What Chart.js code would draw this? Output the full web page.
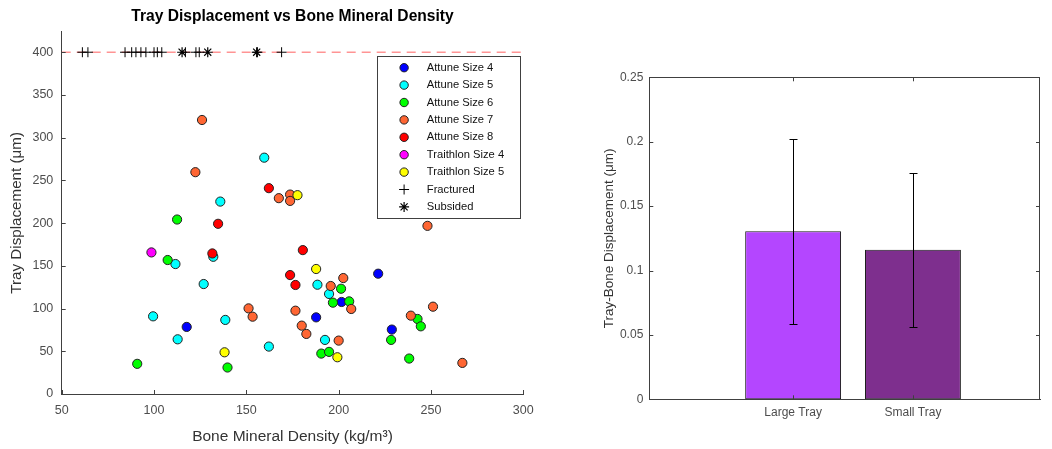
<!DOCTYPE html>
<html>
<head>
<meta charset="utf-8">
<script src="https://cdn.jsdelivr.net/npm/chart.js@4.4.1/dist/chart.umd.min.js"></script>
<style>
    body { margin: 0; background: #fff; }
    #scatterChart { position: absolute; left: 0; top: 0; }
    #barChart { position: absolute; left: 560px; top: 0; }
</style>
</head>
<body>
<canvas id="scatterChart" width="560" height="449"></canvas>
<canvas id="barChart" width="492" height="449"></canvas>
<script>
// Bone mineral density (kg/m^3) and tray displacement (um) for each implant group
const size4Bmd  = [117.7, 187.8, 201.6, 221.4, 228.8];
const size4Disp = [78.5, 89.7, 107.7, 140.8, 75.4];

const size5Bmd  = [159.7, 135.9, 132.1, 111.6, 126.9, 99.5, 138.6, 112.8, 162.2, 188.5, 194.8, 192.6];
const size5Disp = [276.6, 225.2, 160.6, 152.1, 128.7, 90.9, 86.7, 64.0, 55.5, 127.9, 117.1, 63.3];

const size6Bmd  = [112.5, 107.4, 90.9, 139.8, 201.3, 196.9, 205.7, 190.6, 194.8, 228.4, 238.2, 242.7, 244.5];
const size6Disp = [204.2, 156.8, 35.3, 31.0, 123.2, 106.9, 108.4, 47.3, 49.3, 63.3, 41.5, 87.8, 79.2];

const size7Bmd  = [126.0, 122.4, 167.6, 173.7, 173.7, 151.2, 153.4, 176.6, 180.0, 182.5, 202.5, 195.7, 206.8, 200.0, 239.1, 251.1, 267.0, 248.1];
const size7Disp = [320.7, 259.6, 229.2, 233.4, 226.0, 100.2, 90.5, 97.5, 80.0, 70.3, 135.7, 126.4, 99.5, 62.5, 91.7, 102.2, 36.4, 196.8];

const size8Bmd  = [162.2, 134.7, 131.6, 173.7, 176.6, 180.6];
const size8Disp = [240.9, 199.2, 164.5, 139.2, 127.6, 168.4];

const tri4Bmd  = [98.6];
const tri4Disp = [165.7];

const tri5Bmd  = [177.7, 138.2, 187.8, 199.3];
const tri5Disp = [232.7, 48.8, 146.3, 43.0];

// failed trays are plotted at the cap value
const failCap = 400;
const fracturedBmd = [61.2, 64.2, 84.3, 87.9, 90.2, 92.9, 95.6, 100.0, 101.8, 104.2, 117.0, 122.7, 124.5, 156.0, 169.1];
const subsidedBmd  = [115.2, 129.1, 155.6];

// bar chart: mean tray-bone displacement with standard deviation
const trayLabels = ['Large Tray', 'Small Tray'];
const trayMeans  = [0.1305, 0.1162];
const trayErr    = [0.0719, 0.0598];
const trayColors = ['#b446ff', '#7e2f8e'];

const FONT = "'Liberation Sans', Arial, sans-serif";
const AXIS = '#404040';
const TICK = '#4d4d4d';

const pts = (xs, ys) => xs.map((x, i) => ({ x: x, y: ys[i] }));

function group(label, color, xs, ys, order) {
    return {
        label: label,
        data: pts(xs, ys),
        backgroundColor: color,
        borderColor: '#222',
        borderWidth: 1,
        pointRadius: 4.6,
        pointStyle: 'circle',
        order: order
    };
}

// legend in a box, top right of the plot area
const boxLegend = {
    id: 'boxLegend',
    afterDraw(chart, args, opts) {
        const { ctx, chartArea: a } = chart;
        const items = chart.data.datasets.filter(d => d.label);
        const h = items.length * opts.rowHeight + opts.pad * 2;
        const x0 = Math.round(a.right - opts.right - opts.width) + 0.5;
        const y0 = Math.round(a.top + opts.top) + 0.5;
        ctx.save();
        ctx.fillStyle = '#fff';
        ctx.fillRect(x0, y0, opts.width, h);
        ctx.strokeStyle = AXIS;
        ctx.lineWidth = 1;
        ctx.strokeRect(x0, y0, Math.round(opts.width), Math.round(h));
        ctx.font = opts.fontSize + 'px ' + FONT;
        ctx.textBaseline = 'middle';
        items.forEach((d, i) => {
            const cy = y0 + opts.pad + opts.rowHeight * (i + 0.5);
            ctx.fillStyle = d.backgroundColor;
            ctx.strokeStyle = d.borderColor;
            ctx.lineWidth = d.borderWidth;
            Chart.helpers.drawPoint(ctx, {
                pointStyle: d.pointStyle,
                radius: d.pointStyle === 'circle' ? 4.2 : d.pointRadius,
                borderWidth: d.borderWidth,
                rotation: 0
            }, x0 + opts.markerX, cy);
            ctx.fillStyle = '#111';
            ctx.fillText(d.label, x0 + opts.textX, cy);
        });
        ctx.restore();
    }
};

// matlab style ticks pointing into the axes, optional closed box
const inwardTicks = {
    id: 'inwardTicks',
    afterDatasetsDraw(chart, args, opts) {
        const { ctx, chartArea: a } = chart;
        const xs = chart.scales.x, ys = chart.scales.y;
        const len = opts.length;
        ctx.save();
        ctx.strokeStyle = AXIS;
        ctx.lineWidth = 1;
        ctx.beginPath();
        xs.ticks.forEach(t => {
            const px = Math.round(xs.getPixelForValue(t.value)) + 0.5;
            ctx.moveTo(px, a.bottom);
            ctx.lineTo(px, a.bottom - len);
            if (opts.box) {
                ctx.moveTo(px, a.top);
                ctx.lineTo(px, a.top + len);
            }
        });
        ys.ticks.forEach(t => {
            const py = Math.round(ys.getPixelForValue(t.value)) + 0.5;
            ctx.moveTo(a.left, py);
            ctx.lineTo(a.left + len, py);
            if (opts.box) {
                ctx.moveTo(a.right, py);
                ctx.lineTo(a.right - len, py);
            }
        });
        if (opts.box) {
            ctx.moveTo(a.left, Math.round(a.top) + 0.5);
            ctx.lineTo(a.right, Math.round(a.top) + 0.5);
            ctx.moveTo(Math.round(a.right) - 0.5, a.top);
            ctx.lineTo(Math.round(a.right) - 0.5, a.bottom);
        }
        ctx.stroke();
        ctx.restore();
    }
};

// vertical error bars with caps
const errorBars = {
    id: 'errorBars',
    afterDatasetsDraw(chart, args, opts) {
        const { ctx } = chart;
        const xs = chart.scales.x, ys = chart.scales.y;
        ctx.save();
        ctx.strokeStyle = '#000';
        ctx.lineWidth = 1;
        chart.data.datasets.forEach(ds => {
            ds.data.forEach((p, i) => {
                const e = ds.errors[i];
                const px = Math.round(xs.getPixelForValue(p.x)) + 0.5;
                const top = Math.round(ys.getPixelForValue(p.y + e)) + 0.5;
                const bot = Math.round(ys.getPixelForValue(p.y - e)) + 0.5;
                ctx.beginPath();
                ctx.moveTo(px, top);
                ctx.lineTo(px, bot);
                ctx.moveTo(px - opts.cap, top);
                ctx.lineTo(px + opts.cap, top);
                ctx.moveTo(px - opts.cap, bot);
                ctx.lineTo(px + opts.cap, bot);
                ctx.stroke();
            });
        });
        ctx.restore();
    }
};

// scatter: displacement against bone mineral density
new Chart(document.getElementById('scatterChart'), {
    type: 'scatter',
    data: {
        datasets: [
            group('Attune Size 4', '#0000ff', size4Bmd, size4Disp, 9),
            group('Attune Size 5', '#00ffff', size5Bmd, size5Disp, 8),
            group('Attune Size 6', '#00ff00', size6Bmd, size6Disp, 7),
            group('Attune Size 7', '#ff6633', size7Bmd, size7Disp, 6),
            group('Attune Size 8', '#ff0000', size8Bmd, size8Disp, 5),
            group('Traithlon Size 4', '#ff00ff', tri4Bmd, tri4Disp, 4),
            group('Traithlon Size 5', '#ffff00', tri5Bmd, tri5Disp, 3),
            {
                label: 'Fractured',
                data: fracturedBmd.map(x => ({ x: x, y: failCap })),
                pointStyle: 'cross',
                pointRadius: 5,
                borderColor: '#000',
                backgroundColor: '#000',
                borderWidth: 1,
                order: 2
            },
            {
                label: 'Subsided',
                data: subsidedBmd.map(x => ({ x: x, y: failCap })),
                pointStyle: 'star',
                pointRadius: 5,
                borderColor: '#000',
                backgroundColor: '#000',
                borderWidth: 1.2,
                order: 1
            },
            {
                data: [{ x: 50, y: failCap }, { x: 300, y: failCap }],
                showLine: true,
                pointRadius: 0,
                borderColor: 'rgba(255, 0, 0, 0.42)',
                borderWidth: 1.5,
                borderDash: [9, 6],
                order: 100
            }
        ]
    },
    options: {
        responsive: false,
        animation: false,
        layout: { padding: { left: 0, right: 36.7, top: 0, bottom: 0 } },
        plugins: {
            legend: { display: false },
            tooltip: { enabled: false },
            title: {
                display: true,
                text: 'Tray Displacement vs Bone Mineral Density',
                fullSize: false,
                color: '#000',
                font: { family: FONT, size: 15.6, weight: 'bold' },
                padding: { top: 7.6, bottom: 5.4 }
            },
            boxLegend: { width: 142.6, right: 4, top: 24.3, rowHeight: 17.4, pad: 2.5, markerX: 26.6, textX: 49.3, fontSize: 11.2 },
            inwardTicks: { length: 4, box: false }
        },
        scales: {
            x: {
                type: 'linear',
                min: 50,
                max: 300,
                grid: { display: false, drawTicks: false },
                border: { color: AXIS },
                ticks: { stepSize: 50, padding: 9, color: TICK, font: { family: FONT, size: 12.5 } },
                title: {
                    display: true,
                    text: 'Bone Mineral Density (kg/m³)',
                    color: '#333',
                    font: { family: FONT, size: 15.5 },
                    padding: { top: 0, bottom: 3.2 }
                },
                afterFit: s => { s.height = 55; }
            },
            y: {
                min: 0,
                max: 424,
                grid: { display: false, drawTicks: false },
                border: { color: AXIS },
                ticks: { stepSize: 50, includeBounds: false, padding: 8.4, color: TICK, font: { family: FONT, size: 12.5 } },
                title: {
                    display: true,
                    text: 'Tray Displacement (μm)',
                    color: '#333',
                    font: { family: FONT, size: 15.2 },
                    padding: { top: 7.6, bottom: 0 }
                },
                afterFit: s => { s.width = 61.7; }
            }
        }
    },
    plugins: [boxLegend, inwardTicks]
});

// bar chart: mean displacement per tray size
new Chart(document.getElementById('barChart'), {
    type: 'bar',
    data: {
        datasets: [{
            data: trayMeans.map((m, i) => ({ x: i + 1, y: m })),
            errors: trayErr,
            backgroundColor: trayColors,
            borderColor: '#1a1a1a',
            borderWidth: 1,
            borderSkipped: false,
            barPercentage: 0.8,
            categoryPercentage: 1
        }]
    },
    options: {
        responsive: false,
        animation: false,
        layout: { padding: { left: 0, right: 12, top: 77.3, bottom: 0 } },
        plugins: {
            legend: { display: false },
            tooltip: { enabled: false },
            errorBars: { cap: 4 },
            inwardTicks: { length: 4, box: true }
        },
        scales: {
            x: {
                type: 'linear',
                min: -0.2,
                max: 3.06,
                offset: false,
                grid: { display: false, drawTicks: false, offset: false },
                border: { color: AXIS },
                afterBuildTicks: s => { s.ticks = trayLabels.map((l, i) => ({ value: i + 1 })); },
                ticks: {
                    padding: 6.5,
                    color: TICK,
                    font: { family: FONT, size: 12 },
                    callback: v => trayLabels[v - 1]
                },
                afterFit: s => { s.height = 49.7; }
            },
            y: {
                min: 0,
                max: 0.25,
                grid: { display: false, drawTicks: false },
                border: { color: AXIS },
                ticks: {
                    stepSize: 0.05,
                    padding: 6,
                    color: TICK,
                    font: { family: FONT, size: 12 },
                    callback: v => String(+v.toFixed(2))
                },
                title: {
                    display: true,
                    text: 'Tray-Bone Displacement (μm)',
                    color: '#333',
                    font: { family: FONT, size: 13.5 },
                    padding: { top: 41, bottom: 0 }
                },
                afterFit: s => { s.width = 89.3; }
            }
        }
    },
    plugins: [errorBars, inwardTicks]
});
</script>
</body>
</html>
